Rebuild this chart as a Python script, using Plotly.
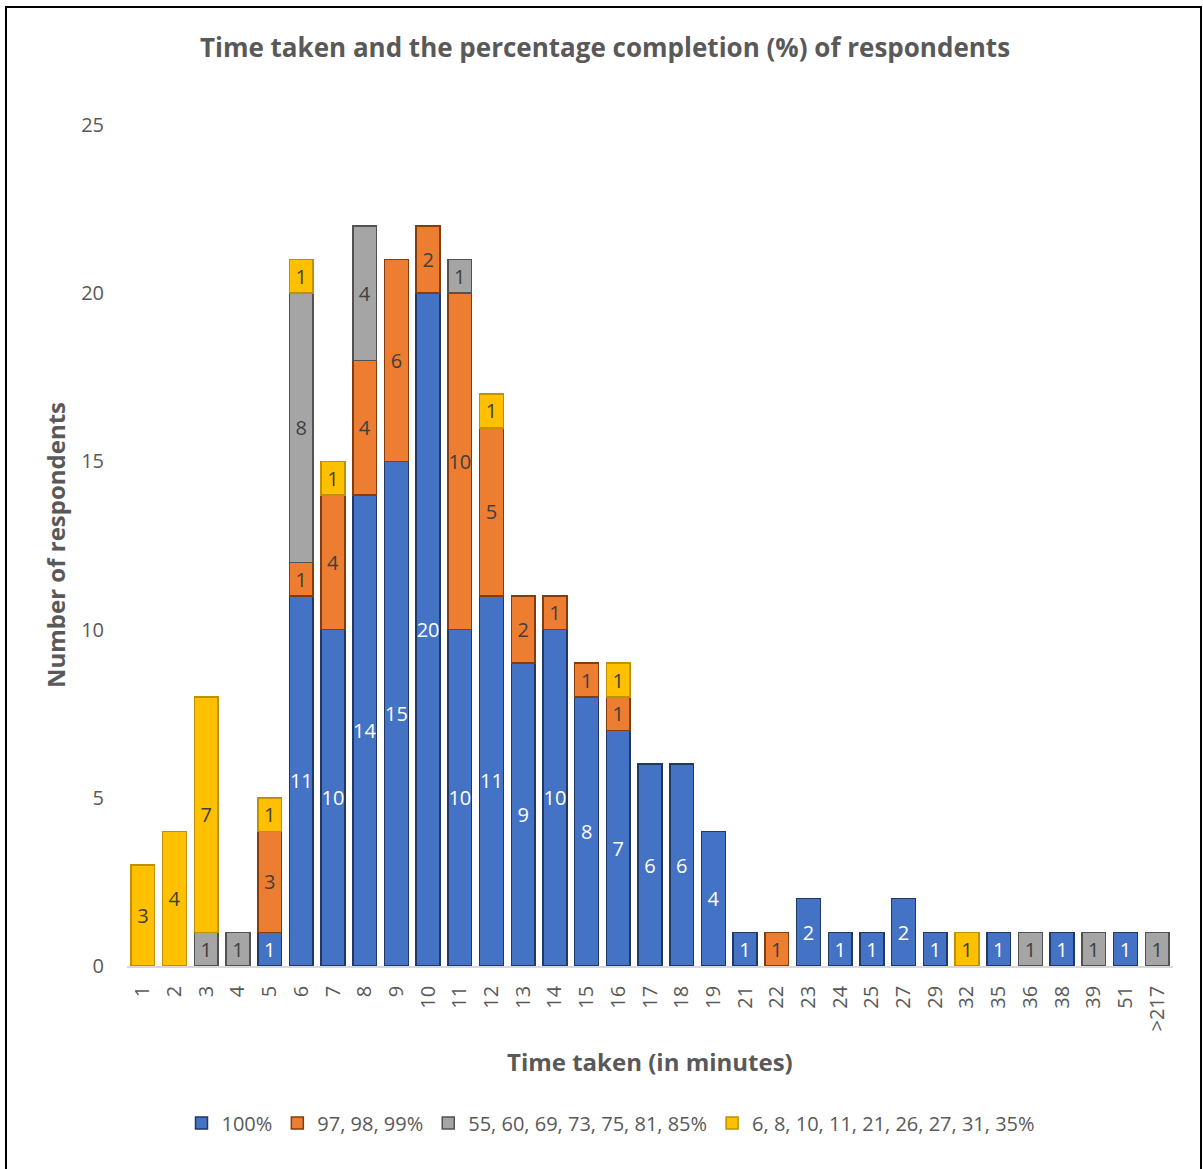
import plotly.graph_objects as go

# Time taken (minutes) categories
minutes = ["1", "2", "3", "4", "5", "6", "7", "8", "9", "10", "11", "12", "13",
           "14", "15", "16", "17", "18", "19", "21", "22", "23", "24", "25", "27",
           "29", "32", "35", "36", "38", "39", "51", ">217"]

# Respondent counts per completion group (None = no respondents)
complete_100 = [None, None, None, None, 1, 11, 10, 14, 15, 20, 10, 11, 9,
                10, 8, 7, 6, 6, 4, 1, None, 2, 1, 1, 2,
                1, None, 1, None, 1, None, 1, None]
complete_97_99 = [None, None, None, None, 3, 1, 4, 4, 6, 2, 10, 5, 2,
                  1, 1, 1, None, None, None, None, 1, None, None, None, None,
                  None, None, None, None, None, None, None, None]
complete_55_85 = [None, None, 1, 1, None, 8, None, 4, None, None, 1, None, None,
                  None, None, None, None, None, None, None, None, None, None, None, None,
                  None, None, None, 1, None, 1, None, 1]
complete_6_35 = [3, 4, 7, None, 1, 1, 1, None, None, None, None, 1, None,
                 None, None, 1, None, None, None, None, None, None, None, None, None,
                 None, 1, None, None, None, None, None, None]

series_names = ["100%", "97, 98, 99%", "55, 60, 69, 73, 75, 81, 85%",
                "6, 8, 10, 11, 21, 26, 27, 31, 35%"]
series_values = [complete_100, complete_97_99, complete_55_85, complete_6_35]
fill_colors = ["#4472C4", "#ED7D31", "#A5A5A5", "#FFC000"]
line_colors = ["#1F3864", "#843C0C", "#525252", "#BF9000"]
label_colors = ["#FFFFFF", "#404040", "#404040", "#404040"]

FONT = "Open Sans"
GREY = "#595959"

fig = go.Figure()
for name, vals, fc, lc, tc in zip(series_names, series_values, fill_colors,
                                  line_colors, label_colors):
    fig.add_trace(go.Bar(
        x=minutes, y=vals, name=name,
        marker=dict(color=fc, line=dict(color=lc, width=1.5)),
        text=[str(v) if v is not None else "" for v in vals],
        textposition="inside", insidetextanchor="middle",
        textfont=dict(family=FONT, size=20, color=tc),
        cliponaxis=False,
    ))

# Plot-area geometry in pixels
W, H = 1203, 1169
L, R, T, B = 127, 1203 - 1173, 125, 1169 - 966
pw, ph = W - L - R, H - T - B


def px_x(px):
    return (px - L) / pw


def px_y(py):
    return (H - B - py) / ph


fig.update_layout(
    width=W, height=H,
    margin=dict(l=L, r=R, t=T, b=B),
    barmode="stack", bargap=0.25,
    plot_bgcolor="white", paper_bgcolor="white",
    font=dict(family=FONT, color=GREY),
    uniformtext=dict(minsize=20, mode="show"),
    title=dict(text="<b>Time taken and the percentage completion (%) of respondents</b>",
               x=605 / W, xanchor="center", y=1 - 48 / H, yanchor="middle",
               font=dict(family=FONT, size=26, color=GREY)),
    xaxis=dict(type="category", tickangle=-90, showgrid=False,
               showline=True, linecolor="#D9D9D9", linewidth=1.5,
               ticks="", ticklabelstandoff=10,
               tickfont=dict(family=FONT, size=20, color=GREY)),
    yaxis=dict(range=[0, 25], dtick=5, showgrid=False, zeroline=False,
               showline=False, ticks="", ticklabelstandoff=22,
               tickfont=dict(family=FONT, size=20, color=GREY)),
    legend=dict(orientation="h", x=px_x(611), xanchor="center",
                y=px_y(1123), yanchor="middle", traceorder="normal",
                font=dict(family=FONT, size=20, color=GREY),
                itemwidth=30, tracegroupgap=0),
    showlegend=True,
    annotations=[
        dict(text="<b>Time taken (in minutes)</b>", xref="paper", yref="paper",
             x=px_x(650), y=px_y(1061), xanchor="center", yanchor="middle",
             showarrow=False, font=dict(family=FONT, size=24, color=GREY)),
        dict(text="<b>Number of respondents</b>", xref="paper", yref="paper",
             x=px_x(55), y=px_y(545), xanchor="center", yanchor="middle",
             textangle=-90, showarrow=False,
             font=dict(family=FONT, size=24, color=GREY)),
    ],
    shapes=[
        dict(type="rect", xref="paper", yref="paper",
             x0=px_x(6), x1=px_x(1201), y0=px_y(1172), y1=px_y(7),
             line=dict(color="#000000", width=2), fillcolor="rgba(0,0,0,0)",
             layer="below"),
    ],
)

fig.write_html("out.html")
